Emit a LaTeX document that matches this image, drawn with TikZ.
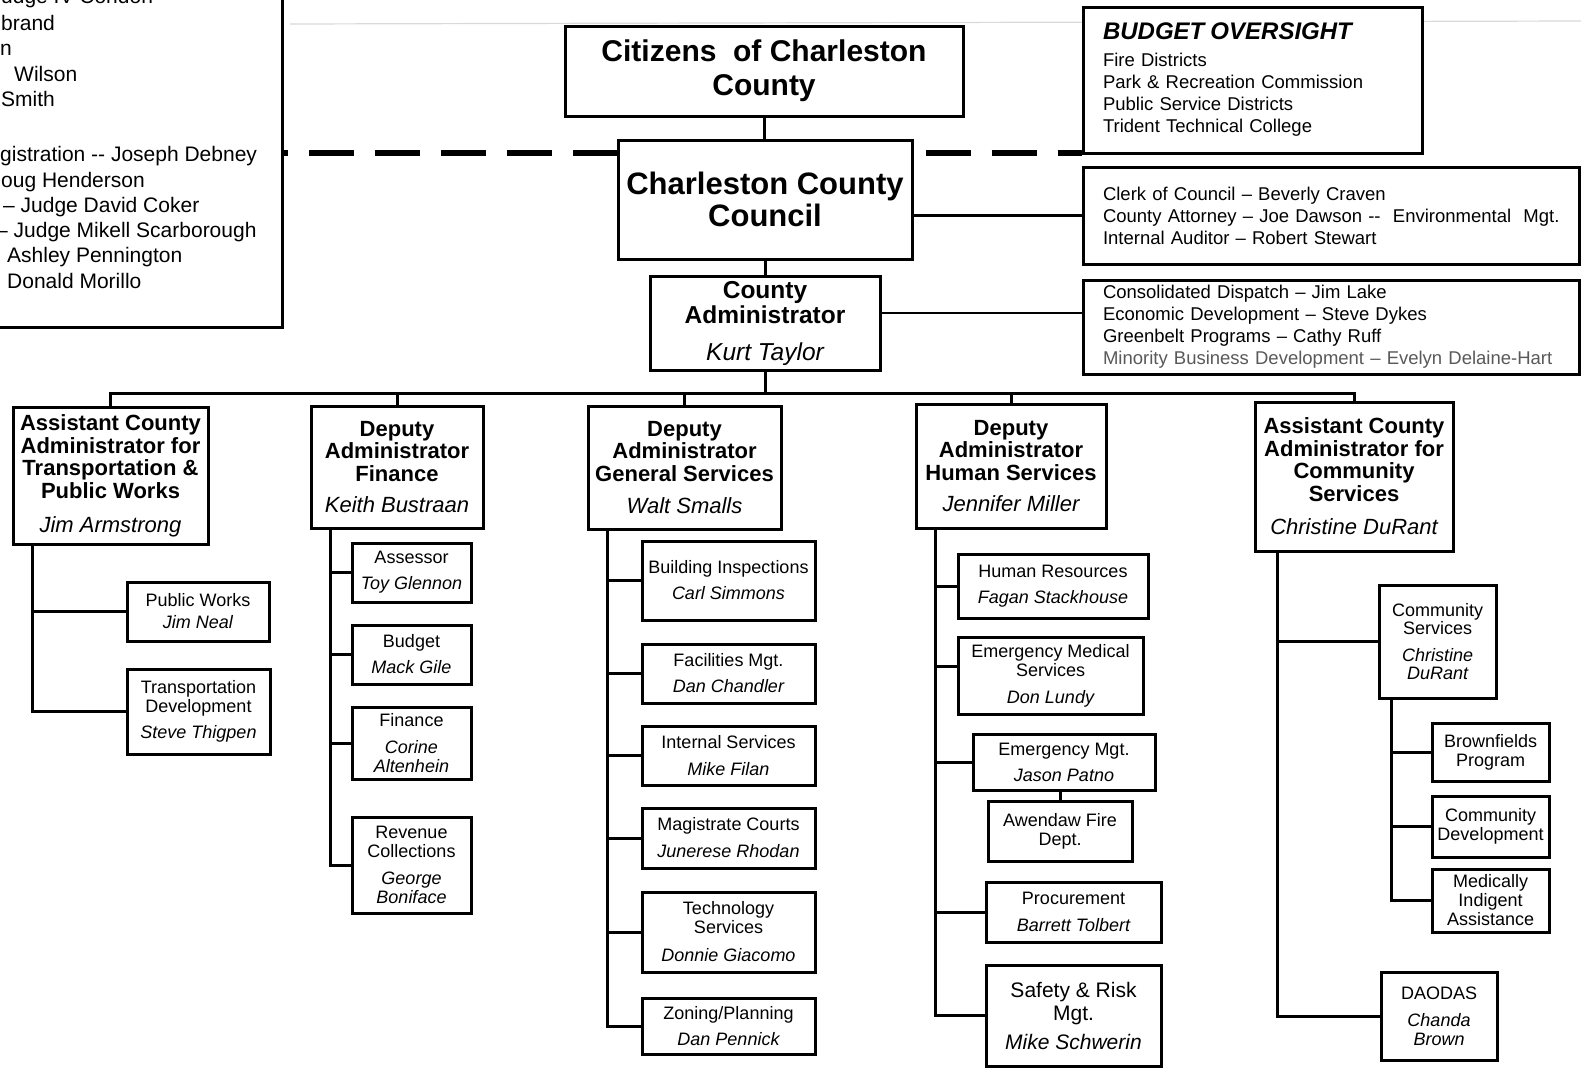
\documentclass[tikz,border=0pt]{standalone}
\usepackage{fontspec}
\setmainfont{Liberation Sans}
\usetikzlibrary{positioning, backgrounds}

\newcommand{\pname}[1]{{\normalfont\itshape #1}}

\begin{document}
\begin{tikzpicture}[
    x=1pt, y=-1pt,
    box/.style = {draw, line width=3pt, fill=white, inner sep=0pt, align=center},
    dim/.style 2 args = {minimum width=#1pt, minimum height=#2pt},
    head/.style = {box, font=\fontsize{22}{22.5}\selectfont\bfseries},
    unit/.style = {box, font=\fontsize{18}{19}\selectfont},
    list/.style = {box, align=left, inner xsep=20pt, text width=#1pt, font=\fontsize{18.5}{22}\selectfont},
    roster/.style = {inner sep=0pt, font=\fontsize{21}{25}\selectfont},
    link/.style = {line width=3pt},
    dashline/.style = {line width=6pt, dash pattern=on 45pt off 21pt, dash phase=#1pt}
  ]
  \useasboundingbox (0,0) rectangle (1581,1074);

  % faint rule of the scan
  \draw[gray!30, line width=1.2pt] (290,24) -- (1581,21);

  % cut-off box on the left
  \node[box, dim={330}{360}, anchor=south east] (courts) at (284,329) {};
  \foreach \x/\y/\t [count=\i] in {1/3/udge IV Condon, 1/30/brand, 0/55/n, 14/81/Wilson,
      1/106/Smith, 0/161/gistration -{}- Joseph Debney, 1/187/oug Henderson,
      3/212/– Judge David Coker, -4/237/– Judge Mikell Scarborough,
      7/262/Ashley Pennington, 7/288/Donald Morillo}
    \node[roster, anchor=base west] (j\i) at (\x,\y) {\t};

  % top of the chart
  \node[box, dim={398}{90}, font=\fontsize{30}{34}\selectfont\bfseries] (cit) at (764,71)
    {Citizens\ \ of Charleston\\County};
  \node[box, dim={294}{119}, font=\fontsize{31}{32}\selectfont\bfseries] (council) at (765,199.5)
    {Charleston County\\Council};
  \node[box, dim={230}{94}, font=\fontsize{24.5}{25}\selectfont\bfseries] (ca) at (765,323)
    {County\\Administrator\\[12pt]\pname{Kurt Taylor}};

  % side boxes
  \node[list=299, dim={339}{146}] (budget) at (1252.5,80)
    {{\fontsize{24}{24}\selectfont\bfseries\itshape BUDGET OVERSIGHT}\\[5pt]
     Fire Districts\\Park \& Recreation Commission\\Public Service Districts\\Trident Technical College};
  \node[list=456, dim={496}{97}] (clerk) at (1331,215.5)
    {Clerk of Council – Beverly Craven\\
     \mbox{County Attorney – Joe Dawson -{}-\ \ Environmental\ \ Mgt.}\\
     Internal Auditor – Robert Stewart};
  \node[list=456, dim={496}{94}] (dispatch) at (1331,327)
    {Consolidated Dispatch – Jim Lake\\Economic Development – Steve Dykes\\
     Greenbelt Programs – Cathy Ruff\\
     \textcolor{black!65}{Minority Business Development – Evelyn Delaine-Hart}};

  % second row
  \node[head, dim={195}{137}] (tpw) at (110.5,476)
    {Assistant County\\Administrator for\\Transportation \&\\Public Works\\[12pt]\pname{Jim Armstrong}};
  \node[head, dim={172}{122}] (fin) at (397,467)
    {Deputy\\Administrator\\Finance\\[9pt]\pname{Keith Bustraan}};
  \node[head, dim={193}{123}] (gen) at (684.5,467.5)
    {Deputy\\Administrator\\General Services\\[10pt]\pname{Walt Smalls}};
  \node[head, dim={190}{124}] (hum) at (1011,466)
    {Deputy\\Administrator\\Human Services\\[9pt]\pname{Jennifer Miller}};
  \node[head, dim={198}{149}] (com) at (1354,476.5)
    {Assistant County\\Administrator for\\Community\\Services\\[11pt]\pname{Christine DuRant}};

  % transportation & public works
  \node[unit, dim={142}{59}] (pw) at (198,611.5) {Public Works\\[3pt]\pname{Jim Neal}};
  \node[unit, dim={143}{85}] (td) at (198.5,711.5) {Transportation\\Development\\[7pt]\pname{Steve Thigpen}};

  % finance
  \node[unit, dim={119}{59}] (ass) at (411.5,572.5) {Assessor\\[7pt]\pname{Toy Glennon}};
  \node[unit, dim={119}{59}] (bud) at (411.5,654.5) {Budget\\[7pt]\pname{Mack Gile}};
  \node[unit, dim={119}{72}] (fnc) at (411.5,743) {Finance\\[8pt]\pname{Corine}\\\pname{Altenhein}};
  \node[unit, dim={119}{96}] (rev) at (411.5,865)
    {Revenue\\Collections\\[8pt]\pname{George}\\\pname{Boniface}};

  % general services
  \node[unit, dim={173}{79}] (bld) at (728.5,580.5) {Building Inspections\\[7pt]\pname{Carl Simmons}};
  \node[unit, dim={173}{59}] (fac) at (728.5,673.5) {Facilities Mgt.\\[7pt]\pname{Dan Chandler}};
  \node[unit, dim={173}{59}] (int) at (728.5,755.5) {Internal Services\\[8pt]\pname{Mike Filan}};
  \node[unit, dim={173}{60}] (mag) at (728.5,838) {Magistrate Courts\\[8pt]\pname{Junerese Rhodan}};
  \node[unit, dim={173}{80}] (tec) at (728.5,932) {Technology\\Services\\[9pt]\pname{Donnie Giacomo}};
  \node[unit, dim={173}{56}] (zon) at (728.5,1026) {Zoning/Planning\\[7pt]\pname{Dan Pennick}};

  % human services
  \node[unit, dim={190}{64}] (hr) at (1053,586) {Human Resources\\[7pt]\pname{Fagan Stackhouse}};
  \node[unit, dim={185}{77}] (ems) at (1050.5,675.5) {Emergency Medical\\Services\\[8pt]\pname{Don Lundy}};
  \node[unit, dim={182}{56}] (emg) at (1064,762) {Emergency Mgt.\\[7pt]\pname{Jason Patno}};
  \node[unit, dim={144}{60}] (awd) at (1060,831) {Awendaw Fire\\Dept.};
  \node[unit, dim={175}{60}] (pro) at (1073.5,912) {Procurement\\[8pt]\pname{Barrett Tolbert}};
  \node[unit, dim={175}{101}, font=\fontsize{21}{23}\selectfont] (saf) at (1073.5,1015.5)
    {Safety \& Risk\\Mgt.\\[6pt]\pname{Mike Schwerin}};

  % community services
  \node[unit, dim={117}{113}, font=\fontsize{18}{18}\selectfont] (cs) at (1437.5,641.5)
    {Community\\Services\\[9pt]\pname{Christine}\\\pname{DuRant}};
  \node[unit, dim={117}{58}] (brf) at (1490.5,752) {Brownfields\\Program};
  \node[unit, dim={117}{61}] (cdv) at (1490.5,826.5) {Community\\Development};
  \node[unit, dim={117}{63}] (med) at (1490.5,900.5) {Medically\\Indigent\\Assistance};
  \node[unit, dim={116}{88}] (dao) at (1439,1016) {DAODAS\\[8pt]\pname{Chanda}\\\pname{Brown}};

  % spine and side links
  \coordinate (dl) at (0,153);
  \coordinate (bus) at (0,393);
  \draw[dashline=41] (courts.east |- dl) -- (council.west |- dl);
  \draw[dashline=54] (council.east |- dl) -- (budget.west |- dl);
  \draw[link] (cit.south) -- (cit.south |- council.north);
  \draw[link] (council.south) -- (council.south |- ca.north);
  \draw[link, line width=2.5pt] (clerk.west) -- (clerk.west -| council.east);
  \draw[link, line width=2.5pt] ([yshift=10pt]ca.east) -- ([yshift=10pt]ca.east -| dispatch.west);
  \draw[link] (ca.south) -- (ca.south |- bus);
  \draw[link] (tpw.north) |- (bus -| com.north) -- (com.north);
  \foreach \b in {fin, gen, hum}
    \draw[link] (\b.north) -- (\b.north |- bus);

  % trunks
  \coordinate (t1) at ([xshift=21pt]tpw.south west);
  \draw[link] (t1) |- (td.west);
  \draw[link] (pw.west) -- (pw.west -| t1);

  \coordinate (t2) at ([xshift=21pt]fin.south west);
  \draw[link] (t2) |- (rev.west);
  \foreach \b in {ass, bud, fnc}
    \draw[link] (\b.west) -- (\b.west -| t2);

  \coordinate (t3) at ([xshift=21pt]gen.south west);
  \draw[link] (t3) |- (zon.west);
  \foreach \b in {bld, fac, int, mag, tec}
    \draw[link] (\b.west) -- (\b.west -| t3);

  \coordinate (t4) at ([xshift=21pt]hum.south west);
  \draw[link] (t4) |- (saf.west);
  \foreach \b in {hr, emg, pro}
    \draw[link] (\b.west) -- (\b.west -| t4);
  \draw[link] ([yshift=9pt]ems.west) -- ([yshift=9pt]ems.west -| t4);
  \draw[link] (awd.north) -- (awd.north |- emg.south);

  \coordinate (t5) at ([xshift=24pt]com.south west);
  \draw[link] (t5) |- (dao.west);
  \draw[link] (cs.west) -- (cs.west -| t5);

  \coordinate (t6) at ([xshift=14pt]cs.south west);
  \draw[link] (t6) |- (med.west);
  \foreach \b in {brf, cdv}
    \draw[link] (\b.west) -- (\b.west -| t6);

\end{tikzpicture}
\end{document}
